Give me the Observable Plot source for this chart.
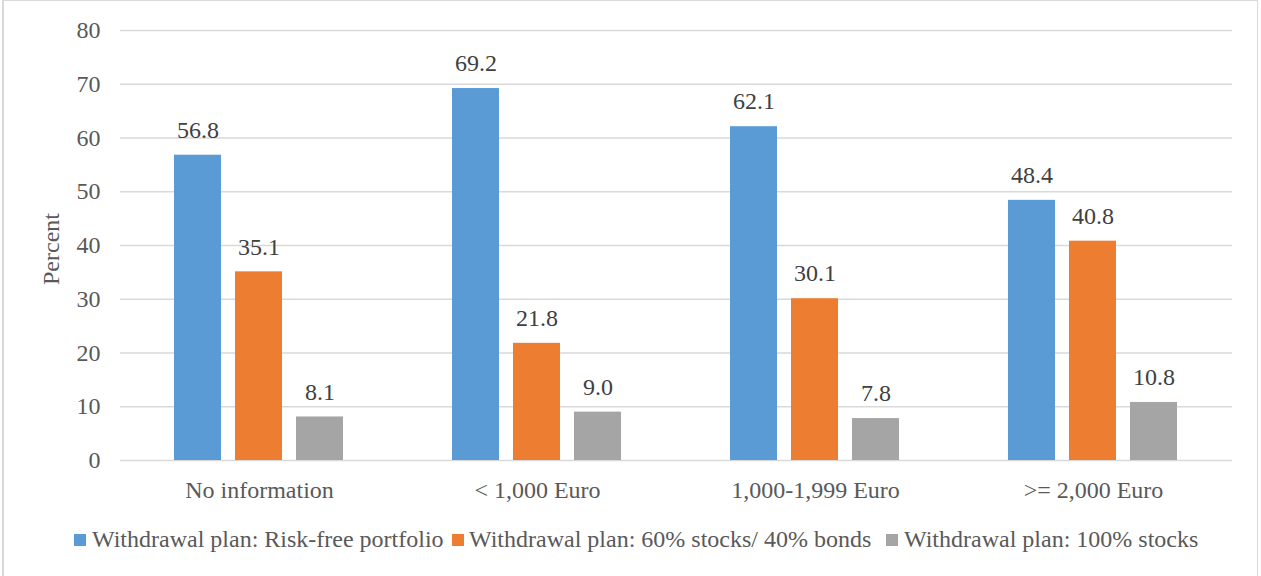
<!DOCTYPE html>
<html>
<head>
<meta charset="utf-8">
<script src="https://cdn.jsdelivr.net/npm/d3@7"></script>
<script src="https://cdn.jsdelivr.net/npm/@observablehq/plot@0.6"></script>
<style>
  html, body { margin: 0; padding: 0; background: #fff; overflow: hidden; }
  #wrap { position: relative; width: 1261px; height: 576px; font-family: "Liberation Serif", Tinos, "DejaVu Serif", serif; }
  #frame { position: absolute; left: 2px; top: 0; width: 1256px; height: 600px; border: 1px solid #d9d9d9; border-left-width: 2px; box-sizing: border-box; }
  #chart { position: absolute; left: 0; top: 0; }
  .lg { position: absolute; top: 525px; height: 28px; }
  .sw { position: absolute; width: 12px; height: 12px; top: 9px; }
  .lt { position: absolute; top: 0; white-space: nowrap; font-size: 24px; line-height: 28px; color: #595959; }
</style>
</head>
<body>
<div id="wrap">
  <div id="frame"></div>
  <div id="chart"></div>
  <div id="legend"></div>
</div>
<script>
const categories = ["No information", "< 1,000 Euro", "1,000-1,999 Euro", ">= 2,000 Euro"];
const series = [
  "Withdrawal plan: Risk-free portfolio",
  "Withdrawal plan: 60% stocks/ 40% bonds",
  "Withdrawal plan: 100% stocks"
];
const riskFree = [56.8, 69.2, 62.1, 48.4];
const mixed = [35.1, 21.8, 30.1, 40.8];
const stocks = [8.1, 9.0, 7.8, 10.8];
const colors = ["#5B9BD5", "#ED7D31", "#A5A5A5"];
const yTicks = [0, 10, 20, 30, 40, 50, 60, 70, 80];

const FONT = "'Liberation Serif', Tinos, 'DejaVu Serif', serif";

const seriesValues = [riskFree, mixed, stocks];
const data = [];
categories.forEach((c, i) => {
  series.forEach((s, j) => data.push({category: c, series: s, value: seriesValues[j][i]}));
});

const chart = Plot.plot({
  width: 1261,
  height: 510,
  marginTop: 30,
  marginBottom: 50,
  marginLeft: 118,
  marginRight: 28,
  style: {fontFamily: FONT, fontSize: "24px", background: "transparent"},
  fx: {domain: categories, padding: 0, axis: null},
  x: {domain: series, paddingInner: 0.226, paddingOuter: 0.861, axis: null},
  y: {domain: [0, 80], axis: null},
  color: {domain: series, range: colors},
  marks: [
    Plot.ruleY(yTicks, {stroke: "#d9d9d9", strokeWidth: 1.5}),
    Plot.barY(data, {fx: "category", x: "series", y: "value", fill: "series"}),
    Plot.text(data, {fx: "category", x: "series", y: "value", text: d => d.value.toFixed(1), dy: -25, fill: "#404040", fontSize: 24, fontFamily: FONT}),
    Plot.axisY({ticks: yTicks, tickSize: 0, tickPadding: 20, label: null, fill: "#595959", fontSize: 24, fontFamily: FONT}),
    Plot.axisFx({anchor: "bottom", tickSize: 0, tickPadding: 20, label: null, fill: "#595959", fontSize: 24, fontFamily: FONT})
  ]
});
document.getElementById("chart").appendChild(chart);

d3.select(chart).append("text")
  .attr("transform", "translate(51,249) rotate(-90)")
  .attr("text-anchor", "middle")
  .attr("dy", "0.35em")
  .attr("fill", "#595959")
  .style("font-size", "24px")
  .style("font-family", FONT)
  .text("Percent");

const legendPos = [[74, 92], [452, 469], [886, 904]];
const legend = document.getElementById("legend");
series.forEach((s, i) => {
  const sw = document.createElement("div");
  sw.className = "lg";
  sw.innerHTML = `<div class="sw" style="left:${legendPos[i][0]}px;background:${colors[i]}"></div><div class="lt" style="left:${legendPos[i][1]}px">${s.replace(/</g, "&lt;")}</div>`;
  legend.appendChild(sw);
});
</script>
</body>
</html>
